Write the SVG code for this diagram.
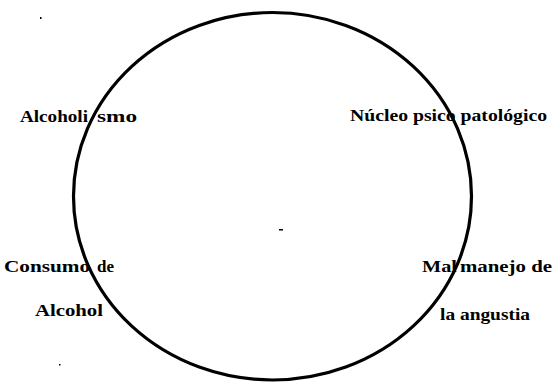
<svg xmlns="http://www.w3.org/2000/svg" width="554" height="384" viewBox="0 0 554 384">
<style>
.lbl{font-weight:bold;font-size:16px;fill:#000}
.ring{fill:none;stroke:#000;stroke-width:3.2}
.spec{fill:#000}
</style>
<rect width="554" height="384" fill="#fff"/>
<g id="connectors">
<ellipse class="ring" cx="272.5" cy="196.25" rx="199" ry="183.75"/>
</g>
<g font-family="Liberation Serif, DejaVu Serif, serif">
<g id="alcoholismo">
<text class="lbl" x="20" y="122" textLength="68" lengthAdjust="spacingAndGlyphs">Alcoholi</text>
<text class="lbl" x="97" y="122" textLength="40" lengthAdjust="spacingAndGlyphs">smo</text>
</g>
<g id="nucleo">
<text class="lbl" x="350" y="121" textLength="197" lengthAdjust="spacingAndGlyphs">Núcleo psico patológico</text>
</g>
<g id="consumo">
<text class="lbl" x="4" y="272" textLength="86" lengthAdjust="spacingAndGlyphs">Consumo</text>
<text class="lbl" x="97" y="272" textLength="17" lengthAdjust="spacingAndGlyphs">de</text>
<text class="lbl" x="35" y="316" textLength="68" lengthAdjust="spacingAndGlyphs">Alcohol</text>
</g>
<g id="malmanejo">
<text class="lbl" x="422" y="272" textLength="35" lengthAdjust="spacingAndGlyphs">Mal</text>
<text class="lbl" x="460" y="272" textLength="92" lengthAdjust="spacingAndGlyphs">manejo de</text>
<text class="lbl" x="440" y="320" textLength="90" lengthAdjust="spacingAndGlyphs">la angustia</text>
</g>
</g>
<g id="specks">
<rect class="spec" x="40" y="17" width="1.5" height="2"/>
<rect class="spec" x="279" y="229" width="4" height="1.5"/>
<rect class="spec" x="59" y="364" width="1.5" height="1.5"/>
</g>
</svg>
